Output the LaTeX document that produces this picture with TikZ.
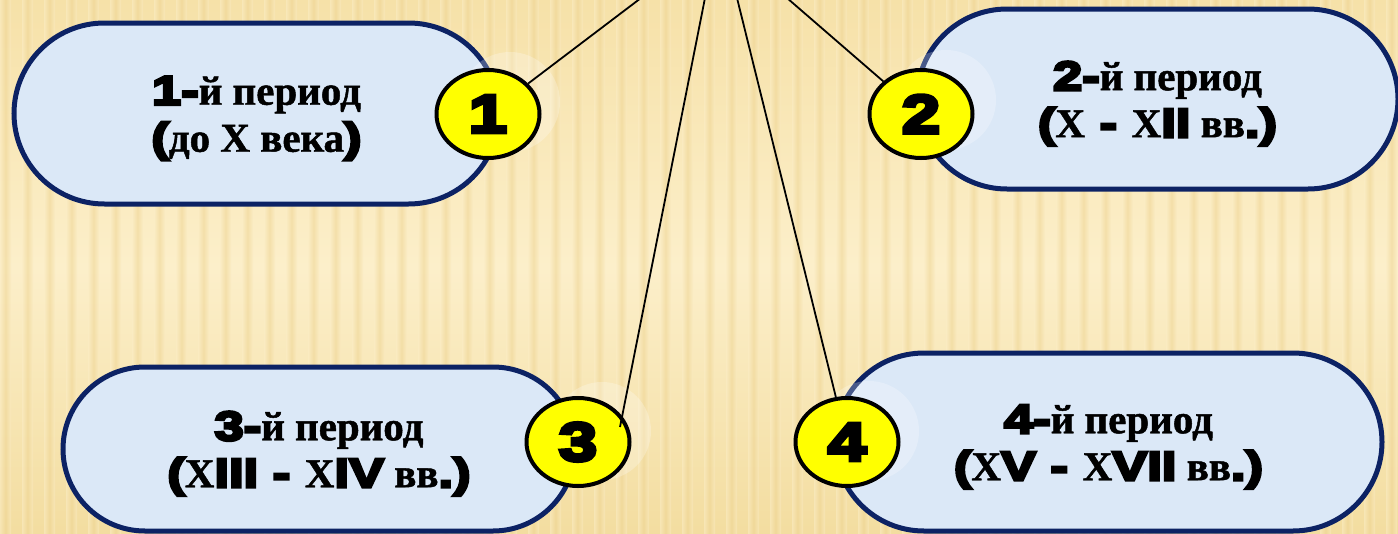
\documentclass[tikz,border=0pt]{standalone}
\usepackage{fontspec}
\setmainfont{Liberation Serif}[BoldFeatures={FakeBold=1.2}]
\newfontfamily\heavyfont[FakeBold=7,FakeStretch=1.28]{Liberation Sans Bold}
\usetikzlibrary{shapes.geometric,calc}
\definecolor{navy}{RGB}{12,34,100}
\definecolor{boxblue}{RGB}{219,232,247}
\definecolor{ballyellow}{RGB}{255,255,0}
\definecolor{bgA}{RGB}{251,237,197}
\definecolor{bgB}{RGB}{238,212,146}
\definecolor{bgTop}{RGB}{246,225,168}
\definecolor{bgMid}{RGB}{252,239,202}
\definecolor{bgBot}{RGB}{243,221,160}
\newcommand{\HV}[1]{{\heavyfont\mdseries #1}}
\begin{document}
\begin{tikzpicture}[x=1pt,y=-1pt,
  periodbox/.style={rectangle, draw=navy, line width=5pt, fill=boxblue, inner sep=0pt,
    align=center, font=\bfseries\fontsize{41}{47}\selectfont},
  numball/.style={ellipse, draw=black, line width=4pt, fill=ballyellow,
    minimum width=103pt, minimum height=88pt, inner sep=0pt,
    font=\heavyfont\mdseries\fontsize{54}{60}\selectfont},
  halo/.style={fill=white, opacity=0.25},
  link/.style={draw=black, line width=1.8pt}]
\useasboundingbox (0,0) rectangle (1398,533);
\clip (0,0) rectangle (1398,533);
% background
\shade[top color=bgTop, bottom color=bgBot, middle color=bgMid] (0,0) rectangle (1398,533);
\foreach \x in {0,22,...,1400} {
  \shade[left color=bgA, right color=bgA, middle color=bgB, opacity=0.55] (\x,0) rectangle (\x+11,533);
}
% boxes
\node[periodbox, minimum width=485pt, minimum height=181pt, rounded corners=90.5pt] (b1) at (256.5,113.5)
  {\rule{0pt}{38pt}\HV{1-}й период\\ \HV{(}до X века\HV{)}};
\node[periodbox, minimum width=481pt, minimum height=180pt, rounded corners=90pt] (b2) at (1157.5,99)
  {\rule{0pt}{38pt}\HV{2-}й период\\ \HV{(}X\HV{ - }X\HV{II} вв\HV{.)}};
\node[periodbox, minimum width=512pt, minimum height=164pt, rounded corners=82pt] (b3) at (319,449)
  {\rule{0pt}{38pt}\HV{3-}й период\\ \HV{(}X\HV{III - }X\HV{IV} вв\HV{.)}};
\node[periodbox, minimum width=547pt, minimum height=178pt, rounded corners=89pt] (b4) at (1108.5,442)
  {\rule{0pt}{38pt}\HV{4-}й период\\ \HV{(}X\HV{V - }X\HV{VII} вв\HV{.)}};
% halos
\fill[halo] (510,102) circle (50);
\fill[halo] (946,100) circle (50);
\fill[halo] (602,431) circle (49);
\fill[halo] (869,431) circle (50);
% number balls
\node[numball] (e1) at (488,114) {1};
\node[numball] (e2) at (921,114) {2};
\node[numball] (e3) at (578,442) {3};
\node[numball] (e4) at (847,442) {4};
% top points
\coordinate (t1) at (641,-2);
\coordinate (t2) at (787,-2);
\coordinate (t3) at (705,-2);
\coordinate (t4) at (737,-2);
\coordinate (c3) at ($(e3.center)+(42,-15)$);
% connectors
\draw[link] (t1) -- (e1);
\draw[link] (t2) -- (e2);
\draw[link] (t3) -- (c3);
\draw[link] (t4) -- (e4);
\end{tikzpicture}
\end{document}
